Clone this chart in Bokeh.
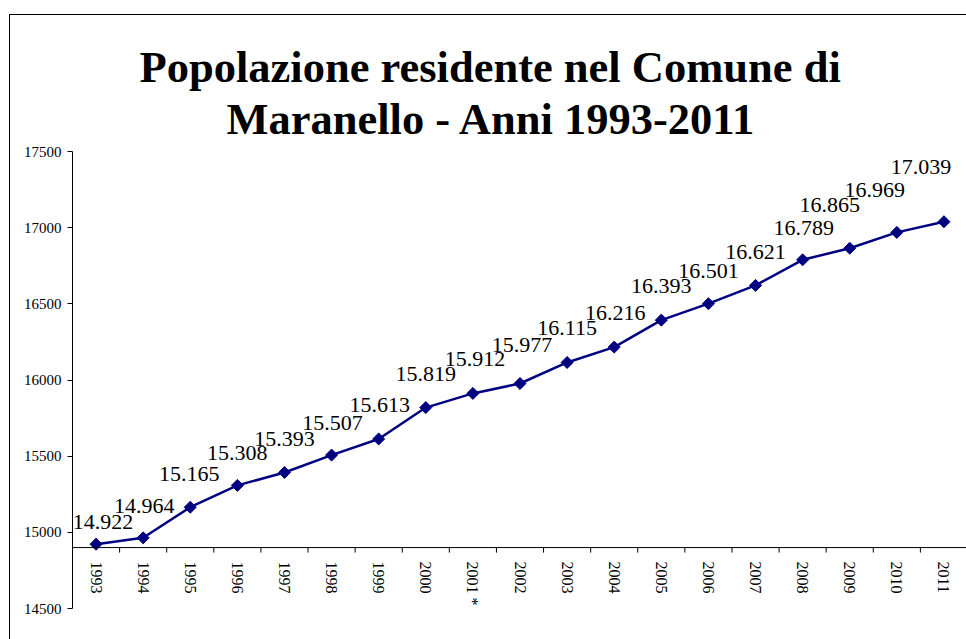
import math
from bokeh.plotting import figure
from bokeh.models import (Range1d, FixedTicker, BasicTickFormatter, Title,
                          ColumnDataSource, Span)
from bokeh.core.properties import value
from bokeh.embed import file_html
from bokeh.resources import INLINE

# ---------------- data ----------------
years = ["1993", "1994", "1995", "1996", "1997", "1998", "1999", "2000",
         "2001 *", "2002", "2003", "2004", "2005", "2006", "2007", "2008",
         "2009", "2010", "2011"]
population = [14922, 14964, 15165, 15308, 15393, 15507, 15613, 15819, 15912,
              15977, 16115, 16216, 16393, 16501, 16621, 16789, 16865, 16969,
              17039]
y_ticks = [14500, 15000, 15500, 16000, 16500, 17000, 17500]
axis_cross = 14900
title_lines = ["Popolazione residente nel Comune di",
               "Maranello - Anni 1993-2011"]

# label placement offsets (pixels) as in the original chart
label_dx = [7, 1, -1, 0, 0, 1, 1, 0, 2, 2, 0, 1, 0, 0, 0, 1, -20, -22, -23]
label_dy = [-22, -32, -33, -32, -33, -32, -34, -34, -34, -39, -34, -34, -34,
            -33, -33, -32, -43, -42, -55]

# title placement (left offset from plot frame, standoff), style only
title_offsets = [67, 154]
title_standoffs = [-16, 16]

idx = list(range(len(years)))
value_labels = [f"{v:,}".replace(",", ".") for v in population]

SERIF = value("Liberation Serif")
NAVY = "#000080"

p = figure(width=957, height=625, output_backend="svg", toolbar_location=None,
           x_axis_location=None,
           x_range=Range1d(-0.5, len(years) - 0.5),
           y_range=Range1d(y_ticks[0], y_ticks[-1]),
           min_border_left=62, min_border_right=0, min_border_top=136,
           min_border_bottom=32,
           margin=(14, 0, 0, 9),
           styles={"border-left": "1px solid black",
                   "border-top": "1px solid black"})
p.title.visible = False
p.grid.visible = False
p.outline_line_color = None
p.background_fill_color = "white"
p.border_fill_color = "white"

# y axis
ya = p.yaxis[0]
ya.ticker = FixedTicker(ticks=y_ticks)
ya.formatter = BasicTickFormatter(use_scientific=False)
ya.major_tick_out = 5
ya.major_tick_in = 0
ya.minor_tick_out = 0
ya.minor_tick_in = 0
ya.major_label_standoff = 6
ya.major_label_text_font = "Liberation Serif"
ya.major_label_text_font_size = "15px"
ya.major_label_text_color = "black"
ya.axis_line_color = "black"
ya.major_tick_line_color = "black"

# category axis crossing at axis_cross
p.add_layout(Span(location=axis_cross, dimension="width",
                  line_color="black", line_width=1))
p.ray(x=[i + 0.5 for i in idx[:-1]], y=[axis_cross] * (len(idx) - 1),
      length=5, length_units="screen", angle=-math.pi / 2,
      line_color="black", line_width=1)
p.text(x=idx, y=[axis_cross] * len(idx), text=years, angle=-math.pi / 2,
       text_align="left", text_baseline="middle", y_offset=14,
       text_font=SERIF, text_font_size="16px", text_color="black")

# series
src = ColumnDataSource(dict(x=idx, y=population, lab=value_labels,
                            dx=label_dx, dy=label_dy))
p.line("x", "y", source=src, line_color=NAVY, line_width=2.5)
p.scatter("x", "y", source=src, marker="square", size=8.5,
          angle=math.pi / 4, fill_color=NAVY, line_color=NAVY)
p.text("x", "y", text="lab", source=src, x_offset="dx", y_offset="dy",
       text_align="center", text_baseline="middle", text_font=SERIF,
       text_font_size="22px", text_color="black")

# title (two lines; the first added sits nearest the plot)
for line, off, so in reversed(list(zip(title_lines, title_offsets,
                                       title_standoffs))):
    p.add_layout(Title(text=line, align="left", offset=off,
                       standoff=so, text_font="Liberation Serif",
                       text_font_style="bold", text_font_size="44.5px",
                       text_color="black"), "above")

open("out.html", "w").write(file_html(p, INLINE))
